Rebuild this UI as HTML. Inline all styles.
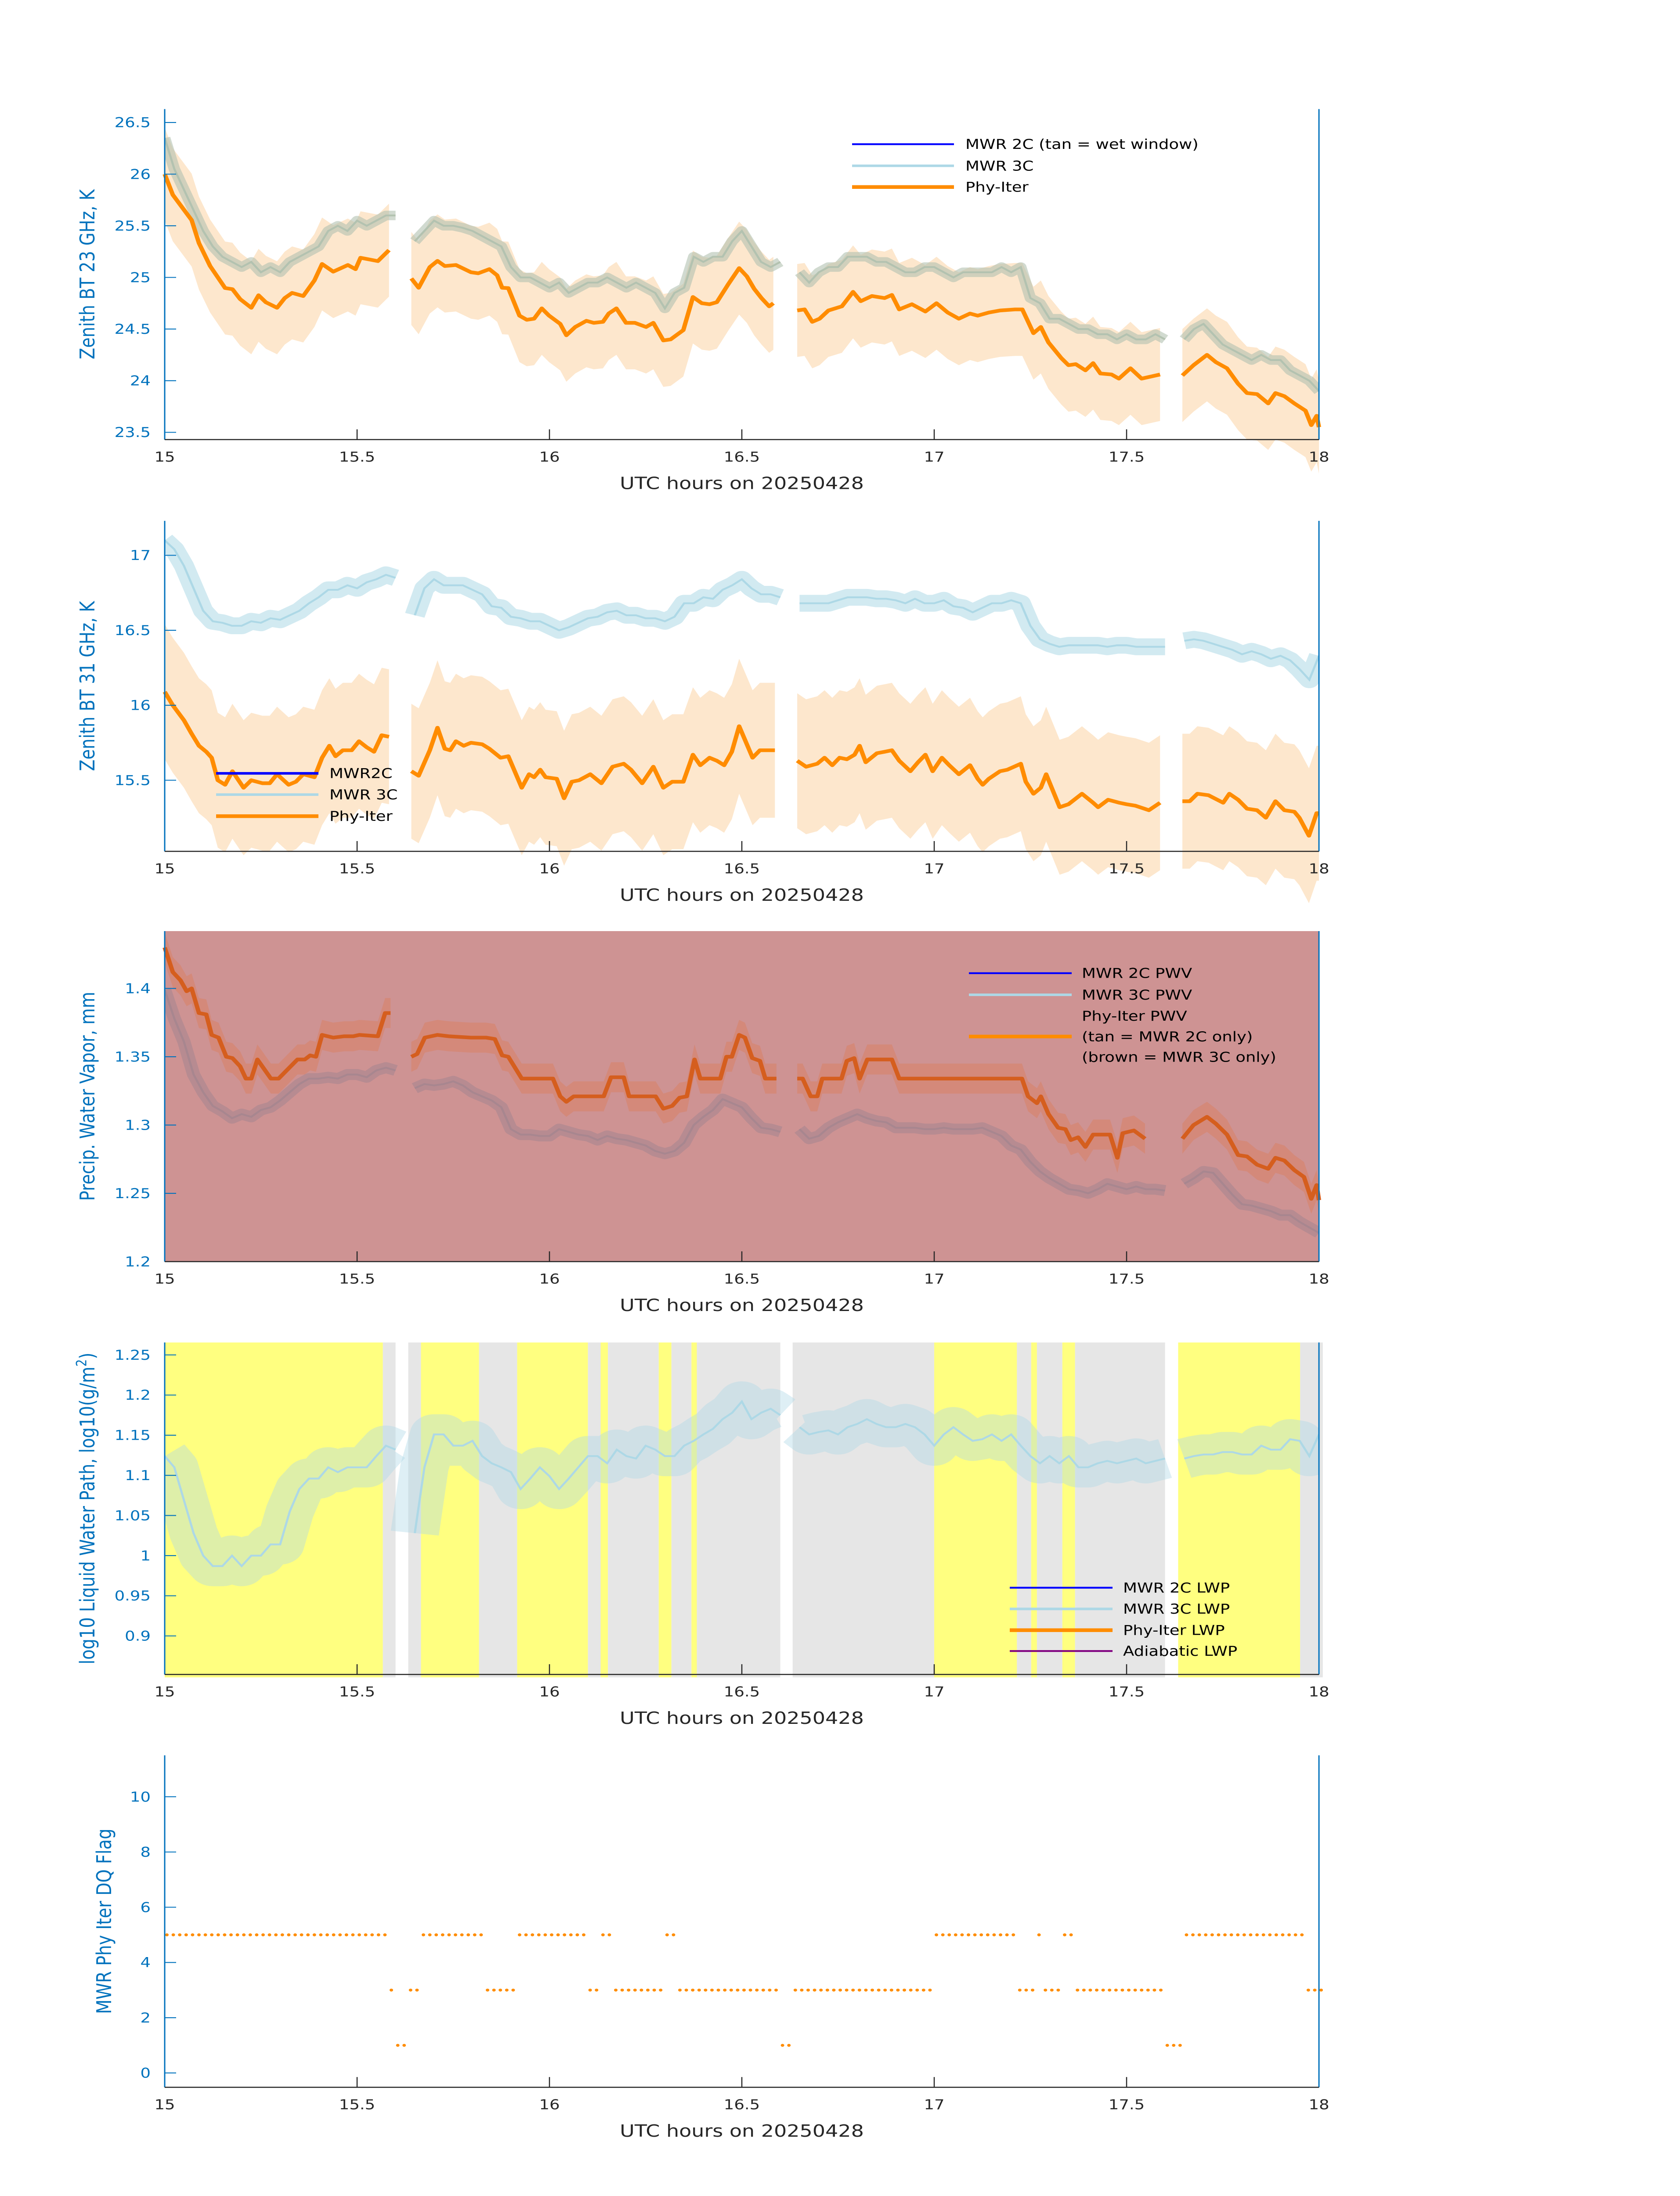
<!DOCTYPE html>
<html><head><meta charset="utf-8"><style>
html,body{margin:0;padding:0;background:#fff;width:100%;height:100%;overflow:hidden;}
svg{display:block;position:absolute;left:0;top:0;width:100vw;height:100vh;font-family:"DejaVu Sans","Liberation Sans",sans-serif;}
</style></head><body>
<svg id="fig" xmlns="http://www.w3.org/2000/svg" viewBox="0 0 3825 6000" preserveAspectRatio="none"></svg>
<script>
// ---------- DATA ----------
const gridStart = 15.0, gridStep = 0.025; // uniform grid for MWR 3C series (121 points, null = gap)
const bt23_3c = [26.35,26.05,25.85,25.65,25.45,25.3,25.2,25.15,25.1,25.15,25.05,25.1,25.05,25.15,25.2,25.25,25.3,25.45,25.5,25.45,25.55,25.5,25.55,25.6,25.6,null,
25.35,25.45,25.55,25.5,25.5,25.48,25.45,25.4,25.35,25.3,25.1,25.0,25.0,24.95,24.9,24.95,24.85,24.9,24.95,24.95,25.0,24.95,24.9,24.95,24.9,24.85,24.7,24.85,24.9,25.2,25.15,25.2,25.2,25.35,25.45,25.3,25.15,25.1,25.15,null,
25.05,24.95,25.05,25.1,25.1,25.2,25.2,25.2,25.15,25.15,25.1,25.05,25.05,25.1,25.1,25.05,25.0,25.05,25.05,25.05,25.05,25.1,25.05,25.1,24.8,24.75,24.6,24.6,24.55,24.5,24.5,24.45,24.45,24.4,24.45,24.4,24.4,24.45,24.4,null,
24.4,24.5,24.55,24.45,24.35,24.3,24.25,24.2,24.25,24.2,24.2,24.1,24.05,24.0,23.9];
const bt31_3c = [17.1,17.04,16.93,16.78,16.63,16.56,16.55,16.53,16.53,16.56,16.55,16.58,16.57,16.6,16.63,16.68,16.72,16.77,16.77,16.8,16.78,16.82,16.84,16.87,16.85,null,
16.6,16.78,16.84,16.8,16.8,16.8,16.77,16.74,16.66,16.65,16.59,16.58,16.56,16.56,16.53,16.5,16.52,16.55,16.58,16.59,16.62,16.63,16.6,16.6,16.58,16.58,16.56,16.59,16.68,16.68,16.72,16.71,16.77,16.8,16.84,16.78,16.74,16.74,16.72,null,
16.68,16.68,16.68,16.68,16.7,16.72,16.72,16.72,16.71,16.71,16.7,16.68,16.71,16.68,16.68,16.7,16.66,16.65,16.62,16.65,16.68,16.68,16.7,16.68,16.53,16.44,16.41,16.39,16.4,16.4,16.4,16.4,16.39,16.4,16.4,16.39,16.39,16.39,16.39,null,
16.43,16.44,16.43,16.41,16.39,16.37,16.34,16.36,16.34,16.31,16.33,16.3,16.24,16.17,16.33];
const pwv_3c = [1.399,1.378,1.361,1.337,1.324,1.314,1.31,1.305,1.308,1.306,1.311,1.313,1.318,1.324,1.33,1.334,1.334,1.335,1.334,1.337,1.337,1.335,1.34,1.342,1.34,null,
1.327,1.33,1.329,1.33,1.332,1.329,1.324,1.321,1.318,1.313,1.297,1.293,1.293,1.292,1.292,1.297,1.295,1.293,1.292,1.289,1.292,1.29,1.289,1.287,1.285,1.281,1.279,1.281,1.287,1.3,1.306,1.311,1.319,1.316,1.313,1.305,1.298,1.297,1.295,null,
1.297,1.29,1.292,1.298,1.302,1.305,1.308,1.305,1.303,1.302,1.298,1.298,1.298,1.297,1.297,1.298,1.297,1.297,1.297,1.298,1.295,1.292,1.285,1.282,1.273,1.266,1.261,1.257,1.253,1.252,1.25,1.253,1.257,1.255,1.253,1.255,1.253,1.253,1.252,null,
1.257,1.261,1.266,1.265,1.257,1.249,1.242,1.241,1.239,1.237,1.234,1.234,1.229,1.225,1.221];
const lwp_3c = [1.124,1.11,1.069,1.028,1.0,0.987,0.987,1.0,0.987,1.0,1.0,1.014,1.014,1.055,1.083,1.096,1.096,1.11,1.104,1.11,1.11,1.11,1.124,1.137,1.132,null,
1.028,1.11,1.151,1.151,1.137,1.137,1.143,1.124,1.115,1.11,1.104,1.083,1.096,1.11,1.099,1.083,1.096,1.11,1.124,1.124,1.115,1.132,1.124,1.121,1.137,1.132,1.124,1.124,1.137,1.143,1.151,1.158,1.17,1.178,1.192,1.17,1.178,1.183,1.175,null,
1.16,1.151,1.154,1.156,1.151,1.16,1.164,1.17,1.164,1.16,1.16,1.164,1.16,1.151,1.137,1.151,1.16,1.151,1.143,1.145,1.151,1.143,1.151,1.137,1.124,1.115,1.124,1.115,1.124,1.11,1.11,1.115,1.118,1.115,1.118,1.121,1.115,1.118,1.121,null,
1.121,1.124,1.126,1.126,1.129,1.129,1.126,1.126,1.137,1.132,1.132,1.145,1.143,1.124,1.151];

// Phy-Iter retrievals (hour, value); null marks a gap
const phy23_t = [15.0,15.021,15.07,15.089,15.118,15.157,15.176,15.196,15.225,15.244,15.263,15.292,15.312,15.331,15.36,15.389,15.409,15.438,15.476,15.496,15.509,15.554,15.583,null,
15.641,15.66,15.689,15.709,15.728,15.757,15.796,15.815,15.844,15.864,15.877,15.893,15.922,15.941,15.96,15.98,15.999,16.028,16.044,16.067,16.096,16.115,16.139,16.154,16.174,16.199,16.222,16.251,16.27,16.296,16.315,16.348,16.373,16.396,16.416,16.435,16.464,16.493,16.513,16.532,16.551,16.571,16.582,null,
16.644,16.663,16.683,16.702,16.725,16.76,16.789,16.809,16.838,16.871,16.89,16.909,16.942,16.977,17.006,17.035,17.064,17.093,17.113,17.142,17.171,17.21,17.229,17.258,17.277,17.297,17.33,17.349,17.368,17.393,17.413,17.432,17.461,17.48,17.51,17.539,17.587,null,
17.645,17.674,17.709,17.732,17.761,17.79,17.813,17.839,17.868,17.887,17.91,17.936,17.965,17.98,17.994,18.0];
const phy23_v = [26.0,25.8,25.555,25.332,25.11,24.897,24.886,24.79,24.706,24.827,24.759,24.706,24.8,24.85,24.82,24.97,25.13,25.056,25.12,25.08,25.19,25.158,25.264,null,
24.99,24.9,25.1,25.16,25.11,25.12,25.05,25.04,25.08,25.02,24.9,24.896,24.63,24.59,24.6,24.7,24.63,24.55,24.44,24.52,24.58,24.56,24.57,24.65,24.7,24.56,24.56,24.52,24.56,24.39,24.4,24.49,24.81,24.75,24.74,24.76,24.93,25.09,25.01,24.89,24.8,24.72,24.75,null,
24.68,24.69,24.57,24.6,24.68,24.72,24.86,24.77,24.82,24.8,24.83,24.69,24.74,24.67,24.75,24.66,24.6,24.65,24.63,24.66,24.68,24.69,24.69,24.46,24.52,24.37,24.22,24.15,24.16,24.1,24.17,24.07,24.06,24.02,24.12,24.02,24.06,null,
24.05,24.15,24.25,24.18,24.12,23.97,23.88,23.87,23.78,23.88,23.85,23.78,23.71,23.57,23.66,23.55];
const phy31_t = [15.0,15.021,15.05,15.07,15.089,15.108,15.122,15.138,15.157,15.176,15.205,15.225,15.254,15.273,15.292,15.322,15.341,15.36,15.389,15.409,15.428,15.444,15.463,15.486,15.505,15.525,15.544,15.564,15.583,null,
15.641,15.66,15.689,15.709,15.728,15.742,15.757,15.777,15.796,15.825,15.844,15.873,15.893,15.928,15.947,15.96,15.976,15.99,16.019,16.038,16.058,16.077,16.106,16.135,16.164,16.193,16.212,16.241,16.27,16.296,16.319,16.348,16.373,16.392,16.416,16.435,16.454,16.474,16.493,16.513,16.528,16.547,16.571,16.586,null,
16.644,16.667,16.696,16.715,16.735,16.754,16.773,16.793,16.806,16.822,16.851,16.871,16.89,16.909,16.938,16.958,16.977,16.996,17.02,17.039,17.064,17.093,17.113,17.126,17.142,17.171,17.19,17.225,17.238,17.258,17.277,17.291,17.326,17.349,17.384,17.413,17.426,17.452,17.481,17.5,17.523,17.558,17.587,null,
17.645,17.664,17.684,17.713,17.751,17.767,17.79,17.813,17.839,17.862,17.887,17.91,17.936,17.949,17.974,17.994,18.0];
const phy31_v = [16.09,16.0,15.9,15.81,15.73,15.69,15.65,15.5,15.47,15.56,15.45,15.5,15.48,15.48,15.54,15.47,15.49,15.54,15.52,15.65,15.73,15.66,15.7,15.7,15.76,15.72,15.69,15.8,15.79,null,
15.56,15.53,15.7,15.85,15.71,15.7,15.76,15.73,15.75,15.74,15.71,15.65,15.66,15.45,15.54,15.52,15.57,15.52,15.51,15.38,15.49,15.5,15.54,15.48,15.59,15.61,15.57,15.48,15.59,15.45,15.49,15.49,15.67,15.6,15.65,15.63,15.6,15.69,15.86,15.74,15.65,15.7,15.7,15.7,null,
15.63,15.59,15.61,15.65,15.6,15.65,15.64,15.67,15.73,15.62,15.68,15.69,15.7,15.63,15.56,15.62,15.67,15.56,15.65,15.6,15.54,15.6,15.51,15.47,15.51,15.56,15.57,15.61,15.49,15.41,15.45,15.54,15.32,15.34,15.41,15.35,15.32,15.37,15.35,15.34,15.33,15.3,15.35,null,
15.36,15.36,15.41,15.4,15.35,15.41,15.37,15.31,15.3,15.25,15.36,15.3,15.29,15.25,15.13,15.28,15.28];
const phyPwv_t = [15.0,15.021,15.041,15.057,15.07,15.089,15.108,15.122,15.14,15.16,15.176,15.196,15.211,15.225,15.241,15.276,15.296,15.345,15.364,15.378,15.393,15.409,15.438,15.467,15.49,15.506,15.554,15.573,15.587,null,
15.641,15.656,15.676,15.709,15.738,15.796,15.835,15.858,15.877,15.893,15.928,16.009,16.028,16.044,16.063,16.141,16.16,16.193,16.207,16.276,16.296,16.319,16.338,16.357,16.377,16.392,16.444,16.46,16.474,16.493,16.508,16.527,16.547,16.561,16.59,null,
16.644,16.658,16.679,16.696,16.709,16.759,16.773,16.792,16.806,16.826,16.89,16.909,17.228,17.244,17.267,17.277,17.297,17.322,17.341,17.355,17.374,17.393,17.413,17.457,17.476,17.49,17.519,17.548,null,
17.645,17.674,17.709,17.732,17.761,17.79,17.813,17.839,17.868,17.887,17.91,17.936,17.961,17.98,17.994,18.0];
const phyPwv_v = [1.43,1.412,1.406,1.398,1.4,1.382,1.381,1.366,1.364,1.35,1.349,1.343,1.334,1.334,1.348,1.334,1.334,1.348,1.348,1.351,1.35,1.366,1.364,1.365,1.365,1.366,1.365,1.382,1.382,null,
1.35,1.352,1.364,1.366,1.365,1.364,1.364,1.363,1.351,1.35,1.334,1.334,1.321,1.317,1.321,1.321,1.335,1.335,1.321,1.321,1.312,1.314,1.32,1.321,1.348,1.334,1.334,1.35,1.35,1.366,1.364,1.349,1.347,1.334,1.334,null,
1.334,1.334,1.321,1.321,1.334,1.334,1.347,1.349,1.334,1.348,1.348,1.334,1.334,1.321,1.316,1.321,1.308,1.298,1.297,1.289,1.291,1.284,1.293,1.293,1.276,1.294,1.296,1.29,null,
1.29,1.3,1.306,1.301,1.293,1.278,1.277,1.271,1.268,1.276,1.274,1.267,1.262,1.246,1.256,1.245];

// DQ flag segments (hour start, hour end, flag)
const flagStart = [15.0,15.567,15.6,15.633,15.666,15.817,15.916,16.1,16.133,16.152,16.284,16.317,16.369,16.383,16.6,16.632,17.0,17.215,17.252,17.267,17.333,17.366,17.6,17.634,17.951];
const flagEnd   = [15.567,15.6,15.633,15.666,15.817,15.916,16.1,16.133,16.152,16.284,16.317,16.369,16.383,16.6,16.632,17.0,17.215,17.252,17.267,17.333,17.366,17.6,17.634,17.951,18.01];
const flagVal   = [5,3,1,3,5,3,5,3,5,3,5,3,5,3,1,3,5,3,5,3,5,3,1,5,3];

const xTicks = [15,15.5,16,16.5,17,17.5,18];
const xTickLabels = ["15","15.5","16","16.5","17","17.5","18"];
const yTicks1 = [23.5,24,24.5,25,25.5,26,26.5];
const yTickLabels1 = ["23.5","24","24.5","25","25.5","26","26.5"];
const yTicks2 = [15.5,16,16.5,17];
const yTickLabels2 = ["15.5","16","16.5","17"];
const yTicks3 = [1.2,1.25,1.3,1.35,1.4];
const yTickLabels3 = ["1.2","1.25","1.3","1.35","1.4"];
const yTicks4 = [0.9,0.95,1,1.05,1.1,1.15,1.2,1.25];
const yTickLabels4 = ["0.9","0.95","1","1.05","1.1","1.15","1.2","1.25"];
const yTicks5 = [0,2,4,6,8,10];
const yTickLabels5 = ["0","2","4","6","8","10"];
const unc23 = 0.45, unc31 = 0.45, uncPwv = 0.011;

// ---------- DRAWING ----------
const NS = "http://www.w3.org/2000/svg";
const svg = document.getElementById('fig');
function el(tag, attrs, parent){
  const e = document.createElementNS(NS, tag);
  for (const k in attrs) e.setAttribute(k, attrs[k]);
  (parent||svg).appendChild(e);
  return e;
}
const X0 = 375, X1 = 3003, T0 = 15, T1 = 18;
function xs(t){ return X0 + (t - T0) / (T1 - T0) * (X1 - X0); }
function mkY(p){ return v => p.bot - (v - p.ymin) / (p.ymax - p.ymin) * (p.bot - p.top); }
const gridT = bt23_3c.map((_, i) => gridStart + i * gridStep);

function segments(ts, vs){
  const segs = []; let cur = [];
  for (let i = 0; i < ts.length; i++){
    if (ts[i] === null || vs[i] === null){ if (cur.length) segs.push(cur); cur = []; }
    else cur.push([ts[i], vs[i]]);
  }
  if (cur.length) segs.push(cur);
  return segs;
}
function linePath(seg, ys){ return seg.map((p,i)=>(i?'L':'M')+xs(p[0]).toFixed(1)+' '+ys(p[1]).toFixed(1)).join(''); }
function bandPath(seg, ys, d){
  const up = seg.map((p,i)=>(i?'L':'M')+xs(p[0]).toFixed(1)+' '+ys(p[1]+d).toFixed(1)).join('');
  const lo = seg.slice().reverse().map(p=>'L'+xs(p[0]).toFixed(1)+' '+ys(p[1]-d).toFixed(1)).join('');
  return up+lo+'Z';
}

function axes(p, ys, ticks, labels, ylabel, ylabX, name){
  const g = el('g', {});
  
  
  ticks.x.forEach((t,i)=>{
    const tk = el('line', {x1:xs(t), x2:xs(t), y1:p.bot, y2:p.bot-28, stroke:'#262626', 'stroke-width':2.5}, g);
    
    
    const tx = el('text', {x:xs(t), y:p.bot+60, 'text-anchor':'middle', 'font-size':37, fill:'#262626'}, g);
    tx.textContent = xTickLabels[i];
    
    
  });
  ticks.y.forEach((v,i)=>{
    const tk = el('line', {x1:X0, x2:X0+26, y1:ys(v), y2:ys(v), stroke:'#0072BD', 'stroke-width':2.5}, g);
    
    
    const tx = el('text', {x:343, y:ys(v)+13, 'text-anchor':'end', 'font-size':37, fill:'#0072BD'}, g);
    tx.textContent = labels[i];
    
    
  });
  const yl = el('line', {x1:X0, x2:X0, y1:p.top, y2:p.bot, stroke:'#0072BD', 'stroke-width':3}, g);
  
  
  const yr = el('line', {x1:X1, x2:X1, y1:p.top, y2:p.bot, stroke:'#0072BD', 'stroke-width':3}, g);
  
  
  const xl = el('line', {x1:X0, x2:X1, y1:p.bot, y2:p.bot, stroke:'#262626', 'stroke-width':3}, g);
  
  
  const xt = el('text', {x:(X0+X1)/2, y:p.bot+135, 'text-anchor':'middle', 'font-size':46, fill:'#262626'}, g);
  xt.textContent = 'UTC hours on 20250428';
  
  
  const cy = (p.top+p.bot)/2;
  const yt = el('text', {x:ylabX, y:cy, 'text-anchor':'middle', 'font-size':46, fill:'#0072BD', transform:`rotate(-90 ${ylabX} ${cy})`}, g);
  yt.innerHTML = ylabel;
  
  
}

function legend(items, lx0, lx1, tx, rows, name){
  const g = el('g', {});
  
  
  items.forEach((it, i)=>{
    if (it.color){
      const l = el('line', {x1:lx0, x2:lx1, y1:rows[i], y2:rows[i], stroke:it.color, 'stroke-width':it.w}, g);
      
      
    }
    const t = el('text', {x:tx, y:rows[i]+13, 'font-size':37, fill:'#000'}, g);
    t.textContent = it.label;
    
    
  });
}

function drawPhy(ts, vs, ys, d, bandColor, lineColor, name){
  segments(ts, vs).forEach(seg=>{
    const b = el('path', {d:bandPath(seg, ys, d), fill:bandColor, stroke:'none'});
    
    
  });
  return () => segments(ts, vs).forEach(seg=>{
    const l = el('path', {d:linePath(seg, ys), fill:'none', stroke:lineColor, 'stroke-width':10, 'stroke-linejoin':'round'});
    
    
  });
}
function drawNoisy(vs, ys, color, wide, op, name, clip){
  segments(gridT, vs).forEach(seg=>{
    const a = el('path', {d:linePath(seg, ys), fill:'none', stroke:color, 'stroke-width':wide, 'stroke-opacity':op, 'stroke-linejoin':'round', 'clip-path':clip});
    
    
    const b = el('path', {d:linePath(seg, ys), fill:'none', stroke:color, 'stroke-width':5, 'clip-path':clip});
    
    
  });
}
function clipFor(p, id){
  const defs = el('defs', {});
  const cp = el('clipPath', {id:id}, defs);
  el('rect', {x:X0, y:p.top, width:X1-X0, height:p.bot-p.top}, cp);
  return `url(#${id})`;
}

// Panel 1
const P1 = {top:298, bot:1201, ymin:23.43, ymax:26.63}; const y1 = mkY(P1);
const c1 = clipFor(P1,'c1');
const fin1 = drawPhy(phy23_t, phy23_v, y1, unc23, '#fde7cd', '#ff8c00', 'phy-iter-23ghz');
drawNoisy(bt23_3c, y1, '#b3c2b0', 26, 0.6, 'mwr-3c-23ghz', c1);
fin1();
axes(P1, y1, {x:xTicks, y:yTicks1}, yTickLabels1, 'Zenith BT 23 GHz, K', 215, 'panel-bt23');
legend([{label:'MWR 2C (tan = wet window)', color:'#0000ff', w:5},{label:'MWR 3C', color:'#add8e6', w:7},{label:'Phy-Iter', color:'#ff8c00', w:10}], 1940, 2172, 2198, [394,453,511], 'legend-bt23');

// Panel 2
const P2 = {top:1423, bot:2326, ymin:15.026, ymax:17.23}; const y2 = mkY(P2);
const c2 = clipFor(P2,'c2');
const fin2 = drawPhy(phy31_t, phy31_v, y2, unc31, '#fde7cd', '#ff8c00', 'phy-iter-31ghz');
drawNoisy(bt31_3c, y2, '#add8e6', 46, 0.55, 'mwr-3c-31ghz', c2);
fin2();
axes(P2, y2, {x:xTicks, y:yTicks2}, yTickLabels2, 'Zenith BT 31 GHz, K', 215, 'panel-bt31');
const l2b = el('line', {x1:492, x2:725, y1:2113, y2:2113, stroke:'#0000ff', 'stroke-width':7});


legend([{label:'MWR2C', color:'#0000ff', w:5},{label:'MWR 3C', color:'#add8e6', w:7},{label:'Phy-Iter', color:'#ff8c00', w:10}], 492, 725, 750, [2113,2171,2230], 'legend-bt31');

// Panel 3
const P3 = {top:2544, bot:3447, ymin:1.2, ymax:1.442}; const y3 = mkY(P3);
const bg3 = el('rect', {x:X0, y:P3.top, width:X1-X0, height:P3.bot-P3.top, fill:'#ce9393'});


const c3 = clipFor(P3,'c3');
const fin3 = drawPhy(phyPwv_t, phyPwv_v, y3, uncPwv, '#d4897a', '#d55e1e', 'phy-iter-pwv');
drawNoisy(pwv_3c, y3, '#a8868f', 30, 0.6, 'mwr-3c-pwv', c3);
fin3();
axes(P3, y3, {x:xTicks, y:yTicks3}, yTickLabels3, 'Precip. Water Vapor, mm', 215, 'panel-pwv');
legend([{label:'MWR 2C PWV', color:'#0000ff', w:5},{label:'MWR 3C PWV', color:'#add8e6', w:7},{label:'Phy-Iter PWV'},{label:'(tan = MWR 2C only)', color:'#ff8c00', w:10},{label:'(brown = MWR 3C only)'}], 2206, 2440, 2463, [2659,2718,2776,2832,2888], 'legend-pwv');

// Panel 4
const P4 = {top:3668, bot:4575, ymin:0.852, ymax:1.2655}; const y4 = mkY(P4);
flagVal.forEach((f,i)=>{
  if (f === 1) return;
  const r = el('rect', {x:xs(flagStart[i]), y:P4.top, width:xs(flagEnd[i])-xs(flagStart[i]), height:P4.bot-P4.top+8, fill: f===5 ? '#ffff80' : '#e6e6e6'});
  
  
});
const c4 = clipFor(P4,'c4');
drawNoisy(lwp_3c, y4, '#add8e6', 110, 0.4, 'mwr-3c-lwp', c4);
axes(P4, y4, {x:xTicks, y:yTicks4}, yTickLabels4, 'log10 Liquid Water Path, log10(g/m<tspan baseline-shift="super" font-size="32">2</tspan>)', 215, 'panel-lwp');
legend([{label:'MWR 2C LWP', color:'#0000ff', w:5},{label:'MWR 3C LWP', color:'#add8e6', w:7},{label:'Phy-Iter LWP', color:'#ff8c00', w:10},{label:'Adiabatic LWP', color:'#800080', w:5}], 2299, 2533, 2557, [4338,4396,4454,4511], 'legend-lwp');

// Panel 5
const P5 = {top:4796, bot:5703, ymin:-0.52, ymax:11.5}; const y5 = mkY(P5);
for (let k = 0; k <= 181; k++){
  const t = T0 + k/60;
  let f = null;
  for (let i = 0; i < flagStart.length; i++) if (t >= flagStart[i] && t < flagEnd[i]) f = flagVal[i];
  if (f === null) continue;
  const c = el('circle', {cx:xs(t)+5, cy:y5(f), r:4, fill:'#ff8c00'});
  
  
}
axes(P5, y5, {x:xTicks, y:yTicks5}, yTickLabels5, 'MWR Phy Iter DQ Flag', 253, 'panel-dq-flag');
</script>
</body></html>
